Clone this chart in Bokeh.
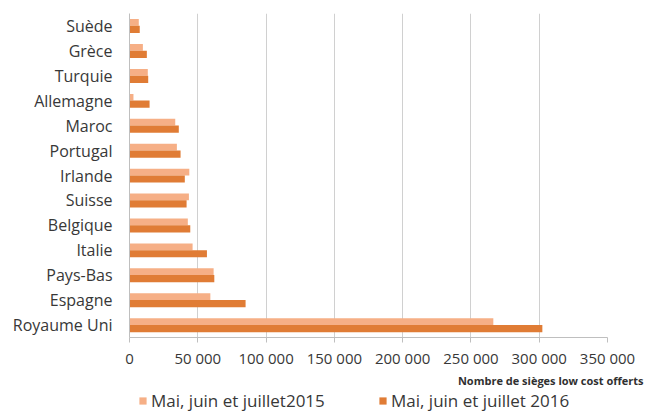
from bokeh.plotting import figure
from bokeh.layouts import column
from bokeh.models import ColumnDataSource, FactorRange, Legend, LegendItem, Title, FixedTicker
from bokeh.transform import dodge
from bokeh.embed import file_html
from bokeh.resources import INLINE

countries = ["Suède", "Grèce", "Turquie", "Allemagne", "Maroc", "Portugal", "Irlande",
             "Suisse", "Belgique", "Italie", "Pays-Bas", "Espagne", "Royaume Uni"]
seats_2015 = [6800, 9800, 13400, 2900, 33500, 34700, 43800, 43500, 42700, 46200, 61600, 59200, 266400]
seats_2016 = [7500, 12700, 13700, 14700, 36100, 37400, 40500, 41800, 44500, 56700, 62100, 85000, 302300]
x_ticks = [0, 50000, 100000, 150000, 200000, 250000, 300000, 350000]
x_tick_labels = ["0", "50 000", "100 000", "150 000", "200 000", "250 000", "300 000", "350 000"]
label_2015 = "Mai, juin et juillet2015"
label_2016 = "Mai, juin et juillet 2016"
x_title = "Nombre de sièges low cost offerts"

FONT = "Open Sans"
LIGHT = "#F6AF86"
DARK = "#E07C35"
TXT = "#383838"

src = ColumnDataSource(dict(country=countries, v15=seats_2015, v16=seats_2016))

p = figure(width=645, height=388, output_backend="svg", toolbar_location=None,
           y_range=FactorRange(factors=list(reversed(countries)), range_padding=0),
           x_range=(0, 350000),
           min_border_left=129, min_border_right=38, min_border_top=13, min_border_bottom=5)
p.outline_line_color = None
p.background_fill_color = "white"
p.border_fill_color = "white"

r15 = p.hbar(y=dodge("country", 0.14, range=p.y_range), right="v15", left=0, height=0.27,
             source=src, color=LIGHT, line_color=None)
r16 = p.hbar(y=dodge("country", -0.14, range=p.y_range), right="v16", left=0, height=0.29,
             source=src, color=DARK, line_color=None)

p.ygrid.grid_line_color = None
p.xgrid.grid_line_color = "#d0d0d0"
p.xgrid.grid_line_width = 1
p.xaxis.ticker = FixedTicker(ticks=x_ticks)
p.xaxis.major_label_overrides = {t: l for t, l in zip(x_ticks, x_tick_labels)}
p.xaxis.axis_line_color = "#bfbfbf"
p.xaxis.major_tick_line_color = "#bfbfbf"
p.xaxis.major_tick_in = 0
p.xaxis.major_tick_out = 5
p.xaxis.minor_tick_line_color = None
p.xaxis.major_label_standoff = 5
p.xaxis.major_label_text_font = FONT
p.xaxis.major_label_text_font_size = "15px"
p.xaxis.major_label_text_color = TXT

p.yaxis.axis_line_color = "#bfbfbf"
p.yaxis.major_tick_line_color = None
p.yaxis.major_label_standoff = 11
p.yaxis.major_label_text_font = FONT
p.yaxis.major_label_text_font_size = "16px"
p.yaxis.major_label_text_color = TXT

p.add_layout(Title(text=x_title, align="right", text_font=FONT, text_font_size="11px",
                   text_font_style="bold", text_color="#303030", offset=-36, standoff=1), "below")

# legend strip
lg = figure(width=645, height=24, output_backend="svg", toolbar_location=None,
            x_range=(0, 1), y_range=(0, 1),
            min_border_left=129, min_border_right=38, min_border_top=0, min_border_bottom=0)
lg.axis.visible = False
lg.grid.grid_line_color = None
lg.outline_line_color = None
hidden = ColumnDataSource(dict(y=[100], left=[100], right=[101]))
d15 = lg.hbar(y="y", left="left", right="right", height=0.1, source=hidden, color=LIGHT, line_color=None)
d16 = lg.hbar(y="y", left="left", right="right", height=0.1, source=hidden, color=DARK, line_color=None)

common = dict(orientation="horizontal", label_text_font=FONT, label_text_font_size="17px",
              label_text_color=TXT, glyph_width=9, glyph_height=9, border_line_color=None,
              background_fill_alpha=0, padding=0, margin=0, label_standoff=4)
lg.add_layout(Legend(items=[LegendItem(label=label_2015, renderers=[d15])],
                     location=(9, 0), **common))
lg.add_layout(Legend(items=[LegendItem(label=label_2016, renderers=[d16])],
                     location=(249, 0), **common))

open("out.html", "w").write(file_html(column(p, lg, spacing=0), INLINE))
